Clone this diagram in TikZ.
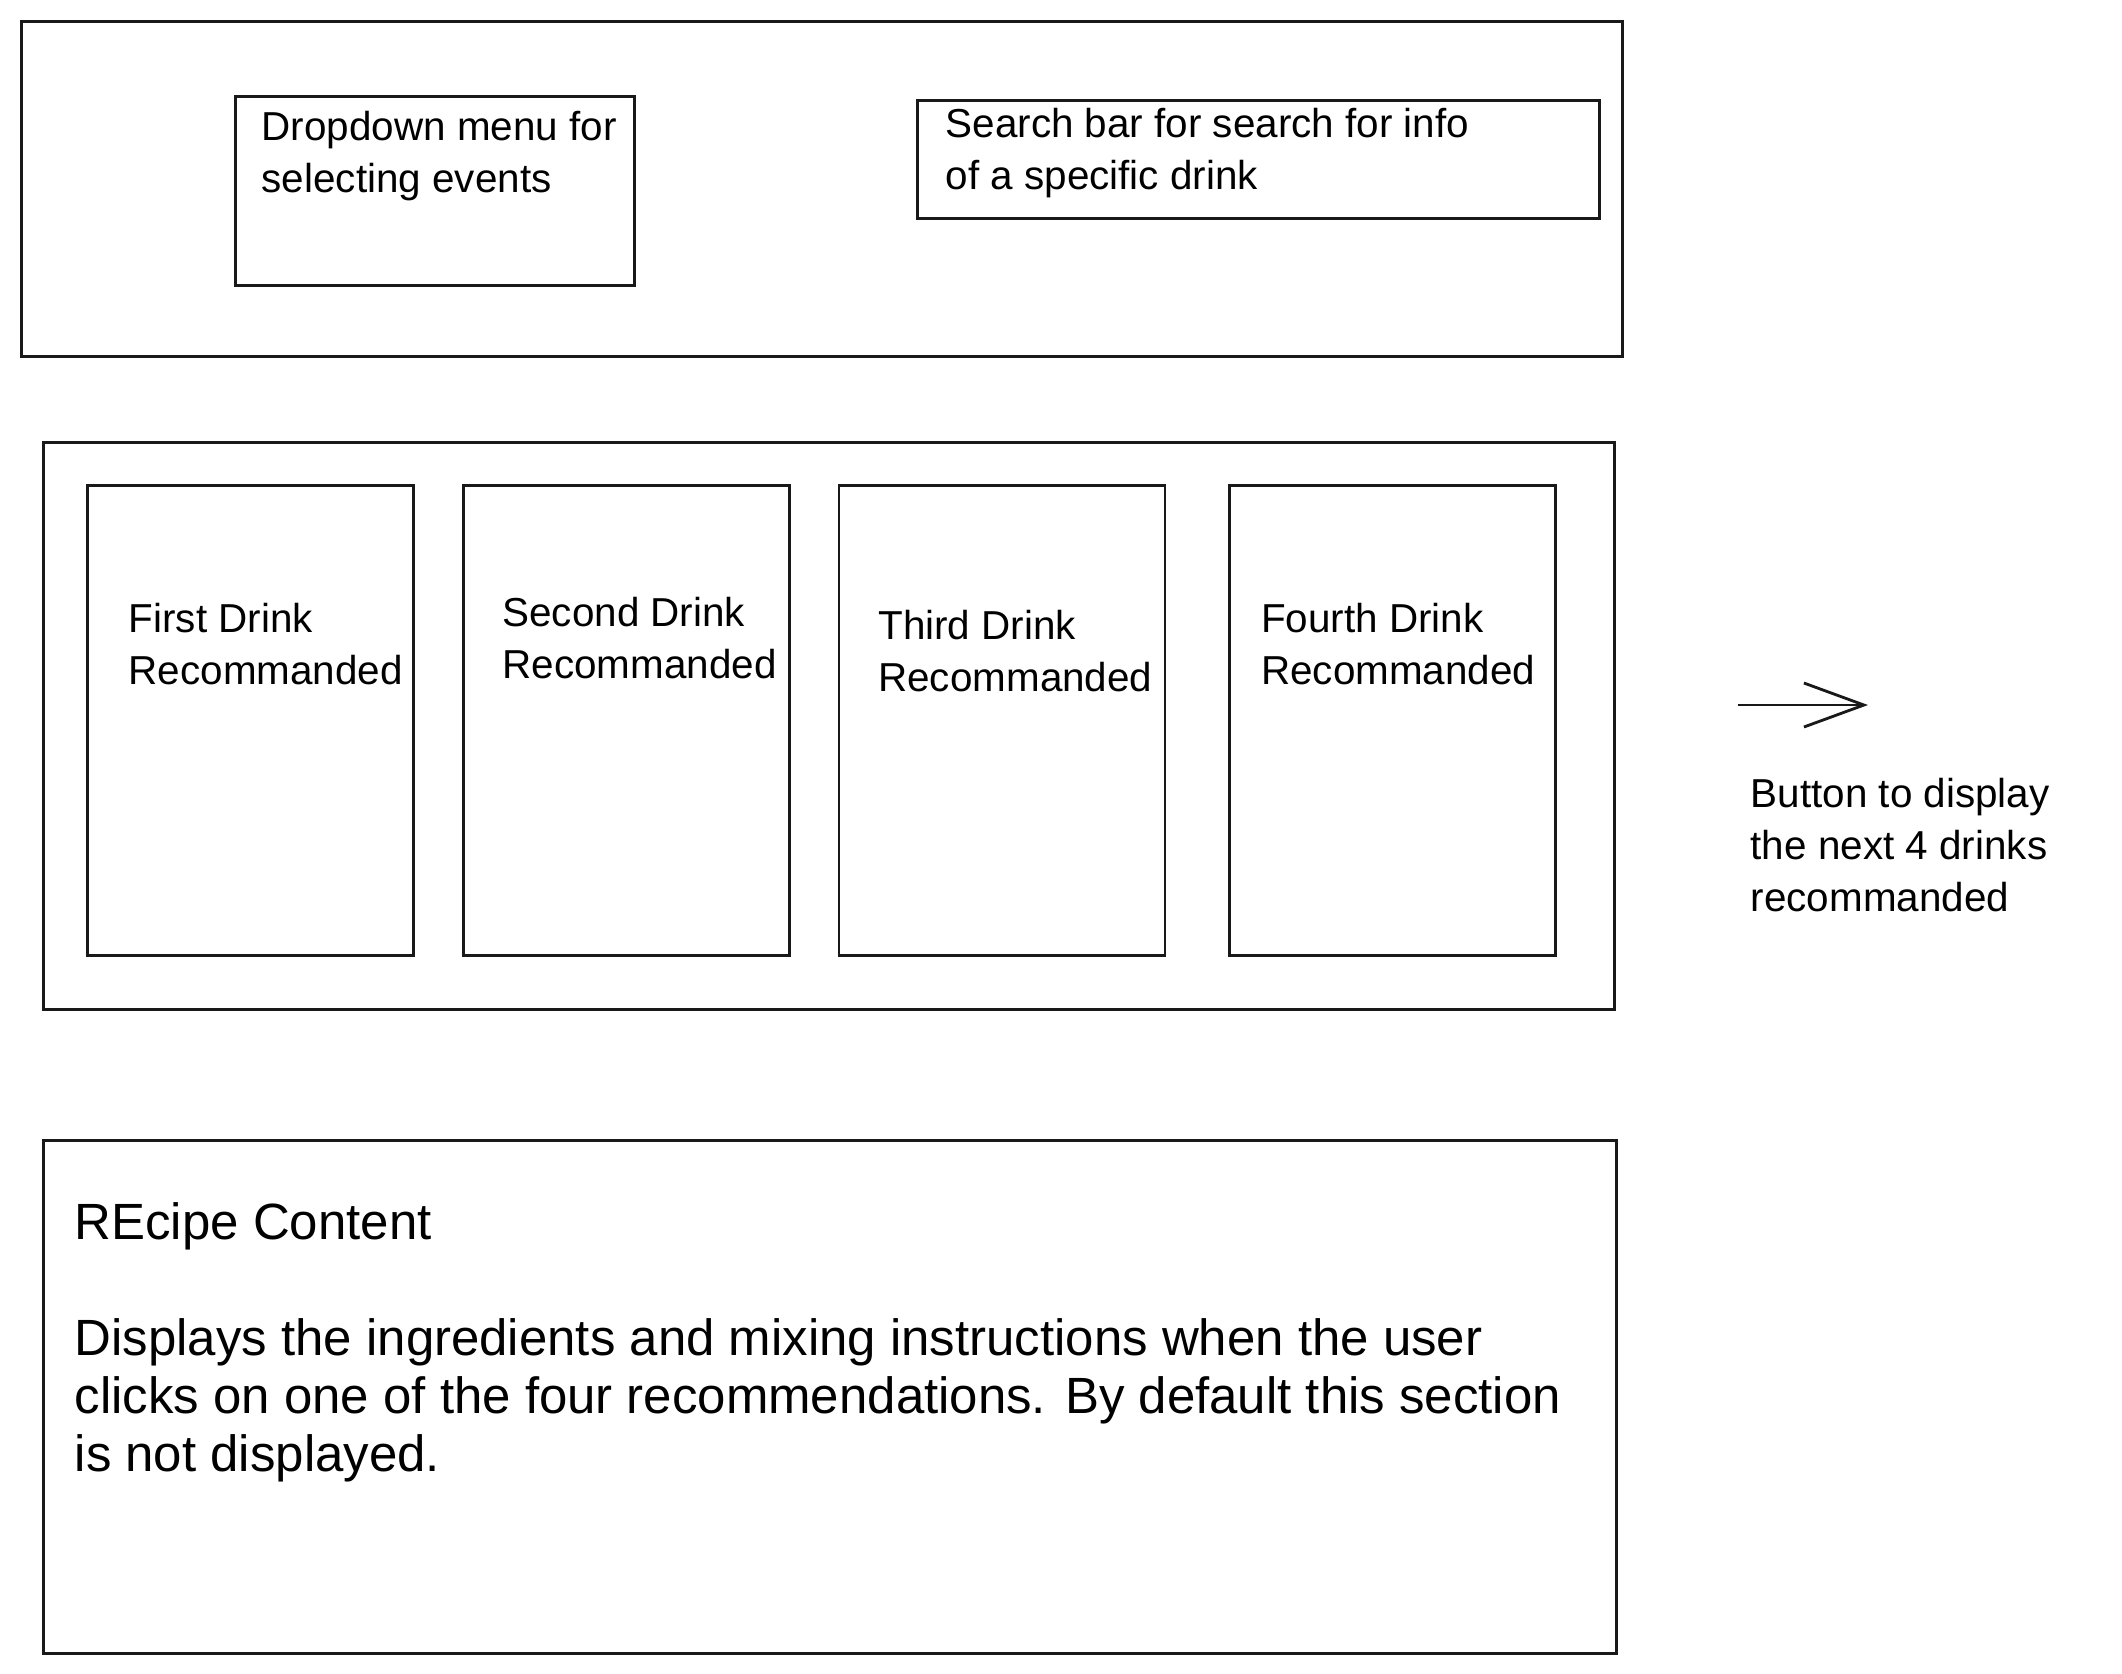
\documentclass[tikz,border=0pt]{standalone}
\usepackage{fontspec}
\setmainfont{Liberation Sans}
\usetikzlibrary{arrows.meta, positioning}

\begin{document}
\begin{tikzpicture}[
        panel/.style={rectangle, draw=black!90, line width=0.8pt, anchor=north west, inner sep=0pt},
        card/.style={panel, minimum width=3.26cm, minimum height=4.7cm},
        note/.style={anchor=north west, align=left, inner sep=0pt, font=\fontsize{11.5}{14.8}\selectfont},
        bignote/.style={anchor=north west, align=left, inner sep=0pt, font=\fontsize{14.5}{16.5}\selectfont},
        line/.style={draw=black!90, line width=0.8pt, -{Straight Barb[length=6mm, width=4.4mm, line width=0.8pt]}}
    ]
        \useasboundingbox (0,0) rectangle (21.22,-16.73);

        % top bar
        \node [panel, minimum width=16.01cm, minimum height=3.35cm] (header) at (0.20,-0.20) {};
        \node [panel, minimum width=3.99cm, minimum height=1.89cm] (dropdown) at (2.34,-0.95) {};
        \node [panel, minimum width=6.82cm, minimum height=1.18cm] (search) at (9.16,-0.99) {};
        \node [note, below right=0.15cm and 0.27cm of dropdown.north west] (dropdowntext) {Dropdown menu for\\selecting events};
        \node [note, below right=0.08cm and 0.29cm of search.north west] (searchtext) {Search bar for search for info\\of a specific drink};

        % recommendations
        \node [panel, minimum width=15.71cm, minimum height=5.67cm] (cards) at (0.42,-4.41) {};
        \node [card] (first) at (0.86,-4.84) {};
        \node [card, right=0.47cm of first] (second) {};
        \node [card, right=0.47cm of second] (third) {};
        \node [card, right=0.62cm of third] (fourth) {};
        \node [note, below right=1.18cm and 0.42cm of first.north west] (firsttext) {First Drink\\Recommanded};
        \node [note, below right=1.12cm and 0.4cm of second.north west] (secondtext) {Second Drink\\Recommanded};
        \node [note, below right=1.25cm and 0.4cm of third.north west] (thirdtext) {Third Drink\\Recommanded};
        \node [note, below right=1.18cm and 0.32cm of fourth.north west] (fourthtext) {Fourth Drink\\Recommanded};

        % next button
        \node [note] (nexttext) at (17.50,-7.77) {Button to display\\the next 4 drinks\\recommanded};
        \coordinate (nextfrom) at (17.38,-7.05);
        \coordinate (nextto) at (18.68,-7.05);
        \draw [line] (nextfrom) -- (nextto);

        % recipe
        \node [panel, minimum width=15.73cm, minimum height=5.13cm] (recipe) at (0.42,-11.39) {};
        \node [bignote, below right=0.63cm and 0.32cm of recipe.north west] (recipetext) {REcipe Content\\[16.5pt]Displays the ingredients and mixing instructions when the user\\clicks on one of the four recommendations. By default this section\\is not displayed.};
    \end{tikzpicture}
\end{document}
